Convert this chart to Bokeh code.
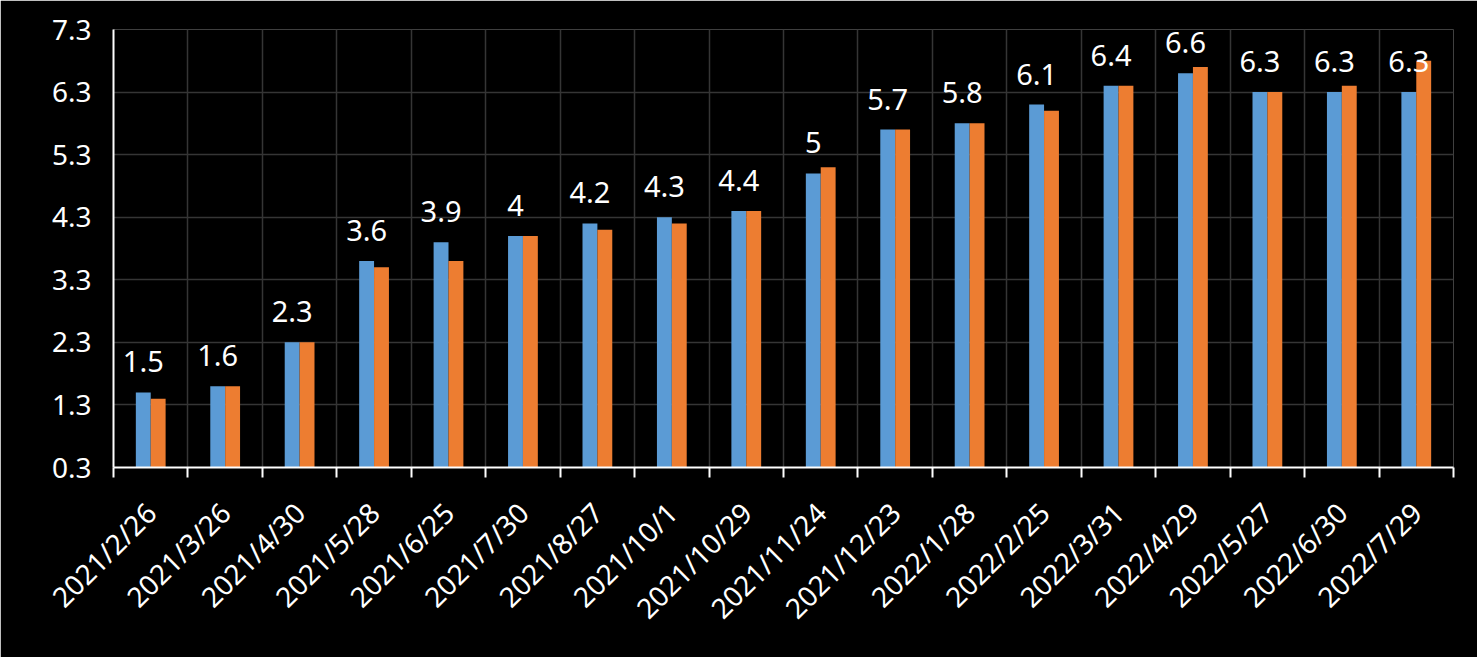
import numpy as np
from bokeh.plotting import figure
from bokeh.models import FixedTicker, ColumnDataSource, LabelSet
from bokeh.core.properties import value
from bokeh.embed import file_html
from bokeh.resources import INLINE

dates = ["2021/2/26", "2021/3/26", "2021/4/30", "2021/5/28", "2021/6/25", "2021/7/30",
         "2021/8/27", "2021/10/1", "2021/10/29", "2021/11/24", "2021/12/23", "2022/1/28",
         "2022/2/25", "2022/3/31", "2022/4/29", "2022/5/27", "2022/6/30", "2022/7/29"]
blue_vals = [1.5, 1.6, 2.3, 3.6, 3.9, 4.0, 4.2, 4.3, 4.4, 5.0, 5.7, 5.8, 6.1, 6.4, 6.6, 6.3, 6.3, 6.3]
orange_vals = [1.4, 1.6, 2.3, 3.5, 3.6, 4.0, 4.1, 4.2, 4.4, 5.1, 5.7, 5.8, 6.0, 6.4, 6.7, 6.3, 6.4, 6.8]
y_ticks = [0.3, 1.3, 2.3, 3.3, 4.3, 5.3, 6.3, 7.3]

FONT = "Noto Sans"
BASE = 0.3
n = len(dates)
centers = np.arange(n) + 0.5
bw = 0.2

src = ColumnDataSource(dict(
    xb=centers - bw / 2, xo=centers + bw / 2,
    b=blue_vals, o=orange_vals,
    lab=[("%g" % v) for v in blue_vals],
))

p = figure(width=1477, height=657, x_range=(0, n), y_range=(BASE, 7.3),
           output_backend="svg", toolbar_location=None,
           background_fill_color="black", border_fill_color="black",
           outline_line_color=None)
p.min_border_left = 113
p.min_border_right = 24
p.min_border_top = 29
p.min_border_bottom = 190

p.vbar(x="xb", top="b", bottom=BASE, width=bw, source=src,
       fill_color="#5b9bd5", line_color=None)
p.vbar(x="xo", top="o", bottom=BASE, width=bw, source=src,
       fill_color="#ed7d31", line_color=None)

labels = LabelSet(x="xb", y="b", text="lab", source=src, text_align="center",
                  text_baseline="bottom", y_offset=20, text_color="white",
                  text_font=value(FONT), text_font_size="29px")
p.add_layout(labels)

# x axis
xt = FixedTicker(ticks=list(centers), minor_ticks=list(range(n + 1)))
p.xaxis.ticker = xt
p.xaxis.major_label_overrides = {float(c): d for c, d in zip(centers, dates)}
p.xaxis.major_label_orientation = np.pi / 4
p.xaxis.major_tick_line_color = None
p.xaxis.minor_tick_line_color = "white"
p.xaxis.minor_tick_line_width = 2
p.xaxis.minor_tick_out = 10
p.xaxis.minor_tick_in = 0
p.xaxis.axis_line_color = "white"
p.xaxis.axis_line_width = 2
p.xaxis.major_label_text_color = "white"
p.xaxis.major_label_text_font = FONT
p.xaxis.major_label_text_font_size = "28px"
p.xaxis.major_label_standoff = 30

p.xgrid.ticker = xt
p.xgrid.grid_line_color = None
p.xgrid.minor_grid_line_color = "#353535"
p.xgrid.minor_grid_line_width = 1.5

# y axis
yt = FixedTicker(ticks=y_ticks, minor_ticks=[])
p.yaxis.ticker = yt
p.yaxis.major_label_overrides = {v: "%.1f" % v for v in y_ticks}
p.yaxis.major_tick_line_color = None
p.yaxis.minor_tick_line_color = None
p.yaxis.axis_line_color = "white"
p.yaxis.axis_line_width = 2
p.yaxis.major_label_text_color = "white"
p.yaxis.major_label_text_font = FONT
p.yaxis.major_label_text_font_size = "28px"
p.yaxis.major_label_standoff = 16
p.ygrid.grid_line_color = "#353535"
p.ygrid.grid_line_width = 1.5

open("out.html", "w").write(file_html(p, INLINE))
